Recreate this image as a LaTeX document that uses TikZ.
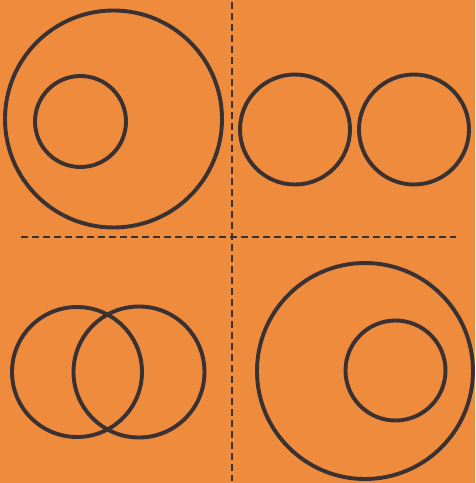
\documentclass[tikz,border=0pt]{standalone}
\usetikzlibrary{positioning}
\definecolor{corange}{HTML}{EE8B3C}
\definecolor{cink}{HTML}{3A3133}
\tikzset{
  every picture/.style={x=1pt, y=-1pt, line width=3.9pt},
  ring/.style={draw=cink, circle, inner sep=0pt, minimum size=#1},
  divider/.style={draw=cink, line width=2.8pt, dash pattern=on 7pt off 4pt},
}

\begin{document}
\begin{tikzpicture}
  \fill[corange] (0,0) rectangle (475,483);
  \useasboundingbox (0,0) rectangle (475,483);
  % dividers
  \coordinate (vtop) at (232,2);
  \coordinate (vbot) at (232,481);
  \coordinate (hleft) at (21,237);
  \coordinate (hright) at (456,237);
  \draw[divider] (vtop) -- (vbot);
  \draw[divider] (hleft) -- (hright);
  % top left: one inside the other
  \node[ring=217pt] (tlbig) at (113.5,119) {};
  \node[ring=91pt] (tlsmall) at (80.5,121.5) {};
  % top right: apart
  \node[ring=110pt] (trleft) at (295,129.5) {};
  \node[ring=110pt] (trright) at (414,129.5) {};
  % bottom left: overlapping
  \node[ring=130pt] (blleft) at (77,372) {};
  \node[ring=131pt] (blright) at (139,372) {};
  % bottom right: one inside the other
  \node[ring=216pt] (brbig) at (365,371) {};
  \node[ring=100pt] (brsmall) at (395.5,370.5) {};
\end{tikzpicture}
\end{document}
